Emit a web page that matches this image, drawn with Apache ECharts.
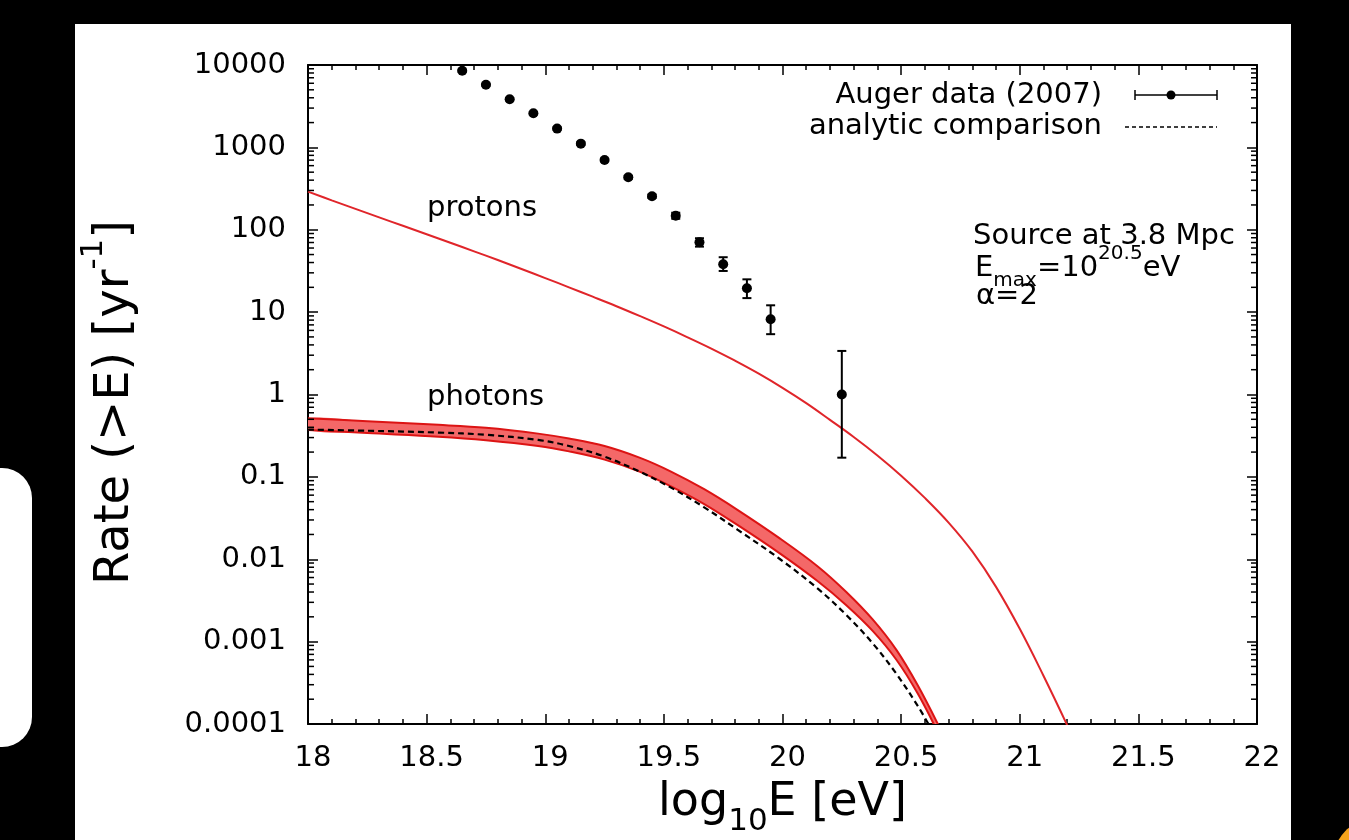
<!DOCTYPE html>
<html>
<head>
<meta charset="utf-8">
<script src="https://cdn.jsdelivr.net/npm/echarts@6/dist/echarts.min.js"></script>
<style>
html,body{margin:0;padding:0;background:#000;}
#c{width:1349px;height:840px;}
</style>
</head>
<body>
<div id="c"></div>
<script>
// ---- data ----
const augerX    = [18.65, 18.75, 18.85, 18.95, 19.05, 19.15, 19.25, 19.35, 19.45, 19.55, 19.65, 19.75, 19.85, 19.95, 20.25];
const augerY    = [8530, 5770, 3840, 2590, 1690, 1110, 703, 434, 255, 148, 70.5, 38.1, 19.5, 8.2, 1.0];
const augerLow  = [8300, 5620, 3740, 2520, 1640, 1075, 678, 416, 243, 136, 62.4, 31.6, 14.8, 5.4, 0.171];
const augerHigh = [8760, 5920, 3940, 2660, 1740, 1145, 728, 452, 268, 161, 78.9, 46.4, 25.0, 12.1, 3.38];

const protonX = [18.0, 18.1, 18.2, 18.3, 18.4, 18.5, 18.6, 18.7, 18.8, 18.9, 19.0, 19.1, 19.2, 19.3, 19.4, 19.5, 19.6,
                 19.7, 19.8, 19.9, 20.0, 20.1, 20.2, 20.3, 20.4, 20.5, 20.6, 20.7, 20.8, 20.9, 21.0, 21.1, 21.2];
const protonY = [290, 227.5, 179.1, 141.3, 111.7, 88.3, 69.5, 54.7, 42.9, 33.4, 25.9, 20.0, 15.4, 11.8, 8.93, 6.70, 4.95,
                 3.61, 2.57, 1.79, 1.205, 0.785, 0.492, 0.305, 0.182, 0.1035, 0.0556, 0.0279, 0.01245, 0.00462, 0.00143, 0.000385, 0.0000966];

const photonX     = [18.0, 18.25, 18.55, 18.75, 18.97, 19.1, 19.25, 19.4, 19.53, 19.67, 19.81, 19.99, 20.15, 20.27, 20.38, 20.48, 20.57, 20.66];
const photonUpper = [0.515, 0.473, 0.428, 0.394, 0.335, 0.292, 0.237, 0.170, 0.116, 0.0708, 0.0398, 0.0178, 0.00813, 0.00398, 0.00186, 0.000794, 0.000295, 0.0000933];
const photonLower = [0.372, 0.340, 0.308, 0.279, 0.237, 0.204, 0.162, 0.115, 0.0767, 0.0468, 0.0261, 0.0117, 0.00537, 0.00275, 0.00135, 0.000603, 0.000234, 0.0000741];

const analyticX = [18.0, 18.25, 18.55, 18.75, 18.97, 19.1, 19.25, 19.4, 19.53, 19.67, 19.81, 19.99, 20.15, 20.27, 20.38, 20.48, 20.57, 20.615];
const analyticY = [0.375, 0.363, 0.345, 0.324, 0.281, 0.237, 0.176, 0.115, 0.0741, 0.0427, 0.0229, 0.0100, 0.00437, 0.00209, 0.000955, 0.000407, 0.000166, 0.0001];

const xTickLabels = ['18', '18.5', '19', '19.5', '20', '20.5', '21', '21.5', '22'];
const yTickLabels = ['0.0001', '0.001', '0.01', '0.1', '1', '10', '100', '1000', '10000'];
const yDecades = [0.0001, 0.001, 0.01, 0.1, 1, 10, 100, 1000];
const yMinorSteps = [2, 3, 4, 5, 6, 7, 8, 9];

const FONT = '"DejaVu Sans", sans-serif';
const BLACK = '#000';

const chart = echarts.init(document.getElementById('c'), null, {renderer: 'canvas'});

const axisLineStyle = {color: BLACK, width: 2};
const tickStyle = {color: BLACK, width: 1.5};

function xAxisDef(pos, showLabel, name) {
  return {
    type: 'value', min: 18, max: 22, interval: 0.5, position: pos,
    axisLine: {show: true, onZero: false, lineStyle: axisLineStyle},
    axisTick: {show: true, inside: true, length: 10, lineStyle: tickStyle},
    minorTick: {show: true, splitNumber: 5, length: 5, lineStyle: tickStyle},
    splitLine: {show: false}, minorSplitLine: {show: false},
    axisLabel: {
      show: showLabel, color: BLACK, fontSize: 29, fontFamily: FONT, margin: 20,
      padding: [0, 0, 0, 10],
      formatter: v => xTickLabels[Math.round((v - 18) / 0.5)]
    },
    name: name || '',
    nameLocation: 'middle',
    nameGap: 46,
    nameTextStyle: {
      color: BLACK, fontFamily: FONT, fontSize: 46,
      rich: {
        a: {fontSize: 46, fontFamily: FONT, color: BLACK},
        s: {fontSize: 31, fontFamily: FONT, color: BLACK, padding: [36, 0, 0, 0]}
      }
    }
  };
}

function yLogDef(pos, showLabel, name) {
  return {
    type: 'log', logBase: 10, min: 0.0001, max: 10000, position: pos,
    axisLine: {show: true, onZero: false, lineStyle: axisLineStyle},
    axisTick: {show: true, inside: true, length: 10, lineStyle: tickStyle},
    splitLine: {show: false},
    axisLabel: {
      show: showLabel, color: BLACK, fontSize: 29, fontFamily: FONT, margin: 22,
      formatter: v => yTickLabels[Math.round(Math.log10(v)) + 4]
    },
    name: name || '',
    nameLocation: 'middle',
    nameRotate: 90,
    nameGap: 155,
    nameTextStyle: {
      color: BLACK, fontFamily: FONT, fontSize: 48,
      padding: [0, 16, 0, 0],
      rich: {
        a: {fontSize: 48, fontFamily: FONT, color: BLACK},
        s: {fontSize: 31, fontFamily: FONT, color: BLACK, padding: [0, 0, 44, 0]}
      }
    }
  };
}

const txt = (text, x, y, align) => ({
  type: 'text', z: 10,
  style: {text: text, x: x, y: y, align: align, verticalAlign: 'middle', fontSize: 29, fontFamily: FONT, fill: BLACK}
});

const option = {
  backgroundColor: '#000',
  animation: false,
  grid: {left: 308, right: 92, top: 65, bottom: 116, containLabel: false, outerBoundsMode: 'none'},
  xAxis: [
    xAxisDef('bottom', true, '{a|log}{s|10}{a|E [eV]}'),
    xAxisDef('top', false, '')
  ],
  yAxis: [
    yLogDef('left', true, '{a|Rate (>E) [yr}{s|-1}{a|]}'),
    yLogDef('right', false, '')
  ],
  graphic: [
    {type: 'rect', z: -100, shape: {x: 75, y: 24, width: 1216, height: 840}, style: {fill: '#fff'}},
    {type: 'rect', z: -100, shape: {x: -40, y: 468, width: 72, height: 279, r: 30}, style: {fill: '#fff'}},
    {type: 'circle', z: -100, shape: {cx: 1372, cy: 858, r: 38}, style: {fill: '#f5a21b'}},
    // legend
    txt('Auger data (2007)', 1102, 95, 'right'),
    {type: 'line', z: 10, shape: {x1: 1135, y1: 95, x2: 1217, y2: 95}, style: {stroke: BLACK, lineWidth: 1.5}},
    {type: 'line', z: 10, shape: {x1: 1135, y1: 90, x2: 1135, y2: 100}, style: {stroke: BLACK, lineWidth: 1.5}},
    {type: 'line', z: 10, shape: {x1: 1217, y1: 90, x2: 1217, y2: 100}, style: {stroke: BLACK, lineWidth: 1.5}},
    {type: 'circle', z: 10, shape: {cx: 1171, cy: 95, r: 4.5}, style: {fill: BLACK}},
    txt('analytic comparison', 1102, 126, 'right'),
    {type: 'line', z: 10, shape: {x1: 1125, y1: 127, x2: 1217, y2: 127}, style: {stroke: BLACK, lineWidth: 1.5, lineDash: [4, 3]}},
    // annotations
    txt('protons', 427, 208, 'left'),
    txt('photons', 427, 397, 'left'),
    txt('Source at 3.8 Mpc', 973, 236, 'left'),
    {type: 'text', z: 10, style: {
      text: '{m|E}{sub|max}{m|=10}{sup|20.5}{m|eV}', x: 975, y: 268, align: 'left', verticalAlign: 'middle',
      fontSize: 29, fontFamily: FONT, fill: BLACK,
      rich: {
        m: {fontSize: 29, fontFamily: FONT, fill: BLACK},
        sub: {fontSize: 20, fontFamily: FONT, fill: BLACK, padding: [26, 0, 0, 0]},
        sup: {fontSize: 20, fontFamily: FONT, fill: BLACK, padding: [0, 0, 28, 0]}
      }
    }},
    txt('α=2', 976, 296, 'left')
  ],
  series: [
    {
      name: 'photons band', type: 'custom', xAxisIndex: 0, yAxisIndex: 0, clip: true, z: 2,
      data: photonX.map((x, i) => [x, photonLower[i], photonUpper[i]]),
      encode: {x: 0, y: [1, 2]},
      renderItem: function (params, api) {
        if (params.dataIndex !== 0) return null;
        const up = photonX.map((x, i) => api.coord([x, photonUpper[i]]));
        const lo = photonX.map((x, i) => api.coord([x, photonLower[i]]));
        const poly = up.concat(lo.slice().reverse());
        return {
          type: 'group',
          children: [
            {type: 'polygon', shape: {points: poly, smooth: 0.35}, style: {fill: '#f46868', stroke: null}},
            {type: 'polyline', shape: {points: up, smooth: 0.35}, style: {stroke: '#dc1414', lineWidth: 2, fill: null}},
            {type: 'polyline', shape: {points: lo, smooth: 0.35}, style: {stroke: '#dc1414', lineWidth: 2, fill: null}}
          ]
        };
      }
    },
    {
      name: 'analytic comparison', type: 'line', xAxisIndex: 0, yAxisIndex: 0, z: 3,
      data: analyticX.map((x, i) => [x, analyticY[i]]),
      showSymbol: false, smooth: 0.35,
      lineStyle: {color: BLACK, width: 2.2, type: [6, 4]}
    },
    {
      name: 'protons', type: 'line', xAxisIndex: 0, yAxisIndex: 0, z: 3,
      data: protonX.map((x, i) => [x, protonY[i]]),
      showSymbol: false, smooth: 0.4,
      lineStyle: {color: '#e0252a', width: 2}
    },
    {
      name: 'Auger error', type: 'custom', xAxisIndex: 0, yAxisIndex: 0, z: 4,
      data: augerX.map((x, i) => [x, augerLow[i], augerHigh[i]]),
      encode: {x: 0, y: [1, 2]},
      renderItem: function (params, api) {
        const x = api.value(0);
        const p1 = api.coord([x, api.value(1)]);
        const p2 = api.coord([x, api.value(2)]);
        const w = 4.5;
        const st = {stroke: BLACK, lineWidth: 2};
        const children = [
          {type: 'line', shape: {x1: p1[0], y1: p1[1], x2: p2[0], y2: p2[1]}, style: st},
          {type: 'line', shape: {x1: p1[0] - w, y1: p1[1], x2: p1[0] + w, y2: p1[1]}, style: st},
          {type: 'line', shape: {x1: p2[0] - w, y1: p2[1], x2: p2[0] + w, y2: p2[1]}, style: st}
        ];
        if (params.dataIndex === 0) {
          // minor ticks of the log axes (left and right), through the axis scale
          const ts = {stroke: BLACK, lineWidth: 1.5};
          yDecades.forEach(dec => {
            yMinorSteps.forEach(k => {
              const l = api.coord([18, k * dec]);
              const r = api.coord([22, k * dec]);
              children.push({type: 'line', shape: {x1: l[0], y1: l[1], x2: l[0] + 6, y2: l[1]}, style: ts});
              children.push({type: 'line', shape: {x1: r[0] - 6, y1: r[1], x2: r[0], y2: r[1]}, style: ts});
            });
          });
        }
        return {type: 'group', children: children};
      }
    },
    {
      name: 'Auger data (2007)', type: 'scatter', xAxisIndex: 0, yAxisIndex: 0, z: 5,
      data: augerX.map((x, i) => [x, augerY[i]]),
      symbol: 'circle', symbolSize: 10,
      itemStyle: {color: BLACK, opacity: 1}
    }
  ]
};

chart.setOption(option);
</script>
</body>
</html>
